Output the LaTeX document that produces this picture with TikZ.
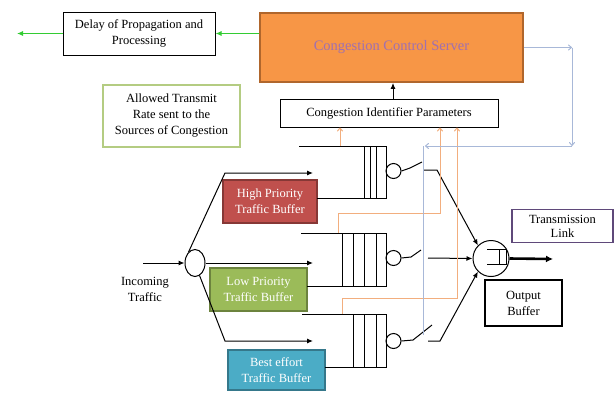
\documentclass[tikz,border=0pt]{standalone}
\usepackage{fontspec}
\setmainfont{Liberation Serif}
\usetikzlibrary{arrows.meta, shapes.geometric}
\definecolor{srvorange}{HTML}{F79646}
\definecolor{srvedge}{HTML}{B0662C}
\definecolor{srvtext}{HTML}{A070B0}
\definecolor{hpred}{HTML}{C0504D}
\definecolor{lpgreen}{HTML}{9BBB59}
\definecolor{beblue}{HTML}{4BACC6}
\definecolor{linkpurple}{HTML}{5F497A}
\definecolor{delaygreen}{HTML}{33CC33}
\definecolor{fbblue}{HTML}{A8B8D8}
\definecolor{fborange}{HTML}{F2AE7E}

\begin{document}
\begin{tikzpicture}[x=1pt, y=-1pt, line width=1pt,
    txt/.style={font=\fontsize{12.5}{16}\selectfont, align=center, inner sep=0pt},
    box/.style={txt, draw, rectangle},
    buf/.style={box, text=white, line width=1.2pt},
    tip/.style={-{Latex[length=6pt, width=5pt]}},
    bluefb/.style={fbblue, -{To[length=4pt, width=6pt]}},
    orfb/.style={fborange, -{To[length=4pt, width=6pt]}},
    srv/.style={draw, circle, minimum size=15, inner sep=0pt}]
    \useasboundingbox (0,0) rectangle (616,392);

    % boxes
    \node[box, minimum width=152, minimum height=43] (delay) at (139,33.5) {Delay of Propagation and\\Processing};
    \node[box, fill=srvorange, draw=srvedge, line width=1.8pt, text=srvtext,
          font=\fontsize{14.5}{17}\selectfont, minimum width=263, minimum height=69] (ccs) at (391.5,47.5) {Congestion Control Server};
    \node[box, minimum width=218, minimum height=28] (cip) at (389,113) {Congestion Identifier Parameters};
    \node[box, draw=lpgreen!75, line width=1.6pt, minimum width=137, minimum height=62] (rate) at (171.5,116)
        {Allowed Transmit\\Rate sent to the\\Sources of Congestion};
    \node[buf, fill=hpred, draw=hpred!70!black, minimum width=94, minimum height=43] (hp) at (270,201.5) {High Priority\\Traffic Buffer};
    \node[buf, fill=lpgreen, draw=lpgreen!70!black, minimum width=97, minimum height=43] (lp) at (258.5,289.5) {Low Priority\\Traffic Buffer};
    \node[buf, fill=beblue, draw=beblue!70!black, minimum width=97, minimum height=40] (be) at (276.5,370) {Best effort\\Traffic Buffer};
    \node[box, draw=linkpurple, line width=1.8pt, font=\fontsize{12.5}{14}\selectfont,
          minimum width=101, minimum height=33] (link) at (562.5,226) {Transmission\\Link};
    \node[box, line width=2.2pt, minimum width=77, minimum height=46] (obuf) at (523.5,303) {Output\\Buffer};
    \node[txt] (inc) at (145,289) {Incoming\\Traffic};

    % splitter and output server
    \node[draw, ellipse, minimum width=20, minimum height=27, inner sep=0pt] (split) at (195,263) {};
    \node[draw, circle, minimum size=36, inner sep=0pt] (out) at (491,258.5) {};
    \draw (487,249) -- (506,249) -- (506,264) -- (487,264);
    \draw (499,249) -- (499,264);

    % queues
    \draw (299,146) -- (386,146) -- (386,198) -- (317,198);
    \foreach \x in {364,370,376} \draw (\x,146) -- (\x,198);
    \draw (301,233) -- (386,233) -- (386,286) -- (307,286);
    \foreach \x in {342,353,364,376} \draw (\x,233) -- (\x,286);
    \draw (302,314) -- (386,314) -- (386,367) -- (325,367);
    \foreach \x in {353,364,376} \draw (\x,314) -- (\x,367);
    \node[srv] (s1) at (393.5,171) {};
    \node[srv] (s2) at (393.5,258) {};
    \node[srv] (s3) at (393.5,341) {};

    % incoming traffic
    \coordinate (incin) at (143,263);
    \draw[tip] (incin) -- (split.west);
    \draw[tip] (split.120) -- (225,173) -- (313,173);
    \draw[tip] (split.east) -- (313,263);
    \draw[tip] (split.290) -- (225,341) -- (313,341);

    % switches
    \draw (s1.east) -- (410,168) -- (422,162);
    \draw (s2.east) -- (411,257) -- (421,250);
    \draw (s3.east) -- (413,340) -- (432,325);
    \coordinate (k1) at (424,170);
    \coordinate (k2) at (428,258);
    \coordinate (k3) at (428,341);
    \draw[tip] (k1) -- (437,170) -- (out.135);
    \draw[tip] (k2) -- (out.west);
    \draw[tip] (k3) -- (440,341) -- (out.225);
    \coordinate (txend) at (553,259);
    \draw[line width=2.6pt, -{Latex[length=7pt, width=7pt]}] (out.east) -- (txend);

    % feedback to the identifier
    \coordinate (o1) at (340,146);
    \coordinate (o2) at (338,233);
    \coordinate (o3) at (342,314);
    \draw[orfb] (o1) -- (o1 |- cip.south);
    \draw[orfb] (o2) -- (338,213) -- (440,213) -- (440,213 |- cip.south);
    \draw[orfb] (o3) -- (342,298) -- (457,298) -- (457,298 |- cip.south);
    \draw[tip] ([xshift=4pt]cip.north) -- ([xshift=4pt]cip.north |- ccs.south);

    % control back to the switches
    \coordinate (b1) at (572,47.5);
    \coordinate (b2) at (572,146);
    \coordinate (b3) at (425,146);
    \coordinate (b4) at (423,335);
    \draw[bluefb] (ccs.east) -- (b1);
    \draw[bluefb] (b1) -- (b2);
    \draw[bluefb] (b2) -- (b3);
    \draw[fbblue] (423,146) -- (b4);

    % delay path
    \coordinate (dl) at (17,33.5);
    \draw[delaygreen, tip] (delay.east -| ccs.west) -- (delay.east);
    \draw[delaygreen, tip] (delay.west) -- (dl);
\end{tikzpicture}
\end{document}
